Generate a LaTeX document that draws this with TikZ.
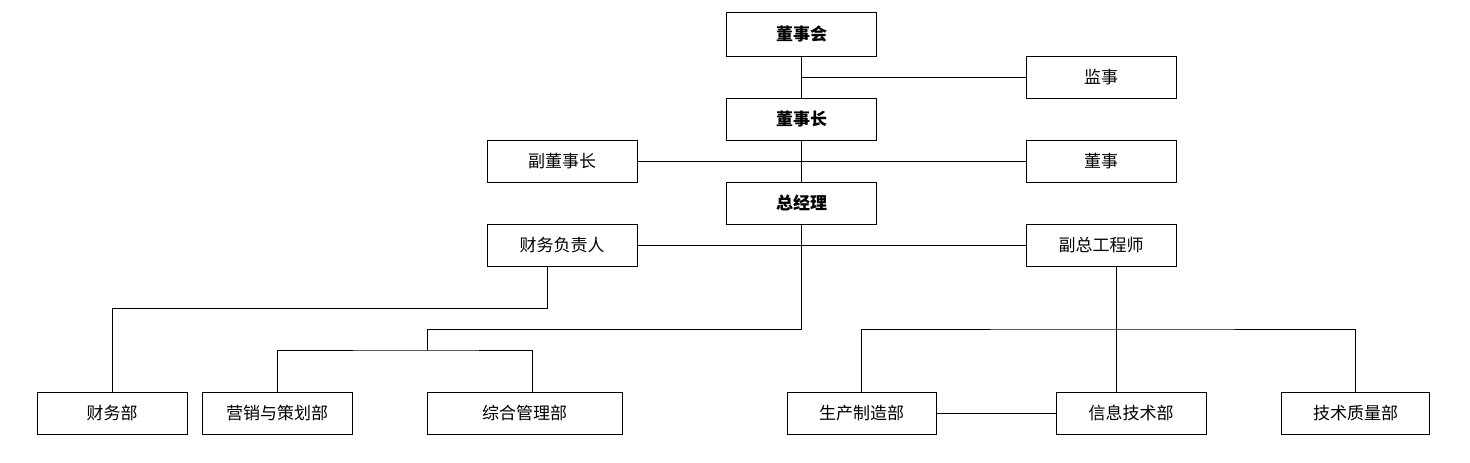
\documentclass[tikz,border=0pt]{standalone}
\usepackage{fontspec}
\setmainfont{Noto Sans CJK SC}
\usetikzlibrary{positioning}

\begin{document}
\begin{tikzpicture}[x=1pt,y=-1pt]
\tikzset{box/.style={draw,line width=1pt,minimum width=150pt,minimum height=42pt,inner sep=0pt,font=\fontsize{17}{20}\selectfont},
  head/.style={box,font=\fontsize{17}{20}\selectfont\bfseries},
  link/.style={line width=1pt}}
\useasboundingbox (0,0) rectangle (1470,463);

\node[head,minimum height=44pt] (dsh) at (801.5,34) {董事会};
\node[box] (js) at (1101,77) {监事};
\node[head] (dsz) at (801.5,119) {董事长};
\node[box] (fdsz) at (562,161) {副董事长};
\node[box] (ds) at (1101,161) {董事};
\node[head] (zjl) at (801.5,203) {总经理};
\node[box] (cwfz) at (562,245) {财务负责人};
\node[box] (fzg) at (1101,245) {副总工程师};

\node[box] (cwb) at (112,413) {财务部};
\node[box] (yx) at (277,413) {营销与策划部};
\node[box,minimum width=195pt] (zh) at (524.5,413) {综合管理部};
\node[box,minimum width=149pt] (sc) at (861.5,413) {生产制造部};
\node[box] (xx) at (1131,413) {信息技术部};
\node[box,minimum width=148pt] (jz) at (1355.5,413) {技术质量部};

\coordinate (ga) at (427,329);
\coordinate (gb) at (427,350);
\coordinate (gc) at (1116,329);

\draw[link] (dsh) -- (dsz);
\draw[link] (dsh.south |- js) -- (js);
\draw[link] (dsz) -- (zjl);
\draw[link] (fdsz) -- (ds);
\draw[link] (cwfz) -- (fzg);
\draw[link] (zjl.south) |- (ga) -- (gb);
\draw[link] (yx.north) |- (gb) -| ([xshift=7.5pt]zh.north);
\draw[link] ([xshift=-15pt]cwfz.south) -- ++(0,42) -| (cwb.north);
\draw[link] ([xshift=15pt]fzg.south) -- ([xshift=-15pt]xx.north);
\draw[link] (sc.north) |- (gc) -| (jz.north);
\draw[link] (sc) -- (xx);

\end{tikzpicture}
\end{document}
